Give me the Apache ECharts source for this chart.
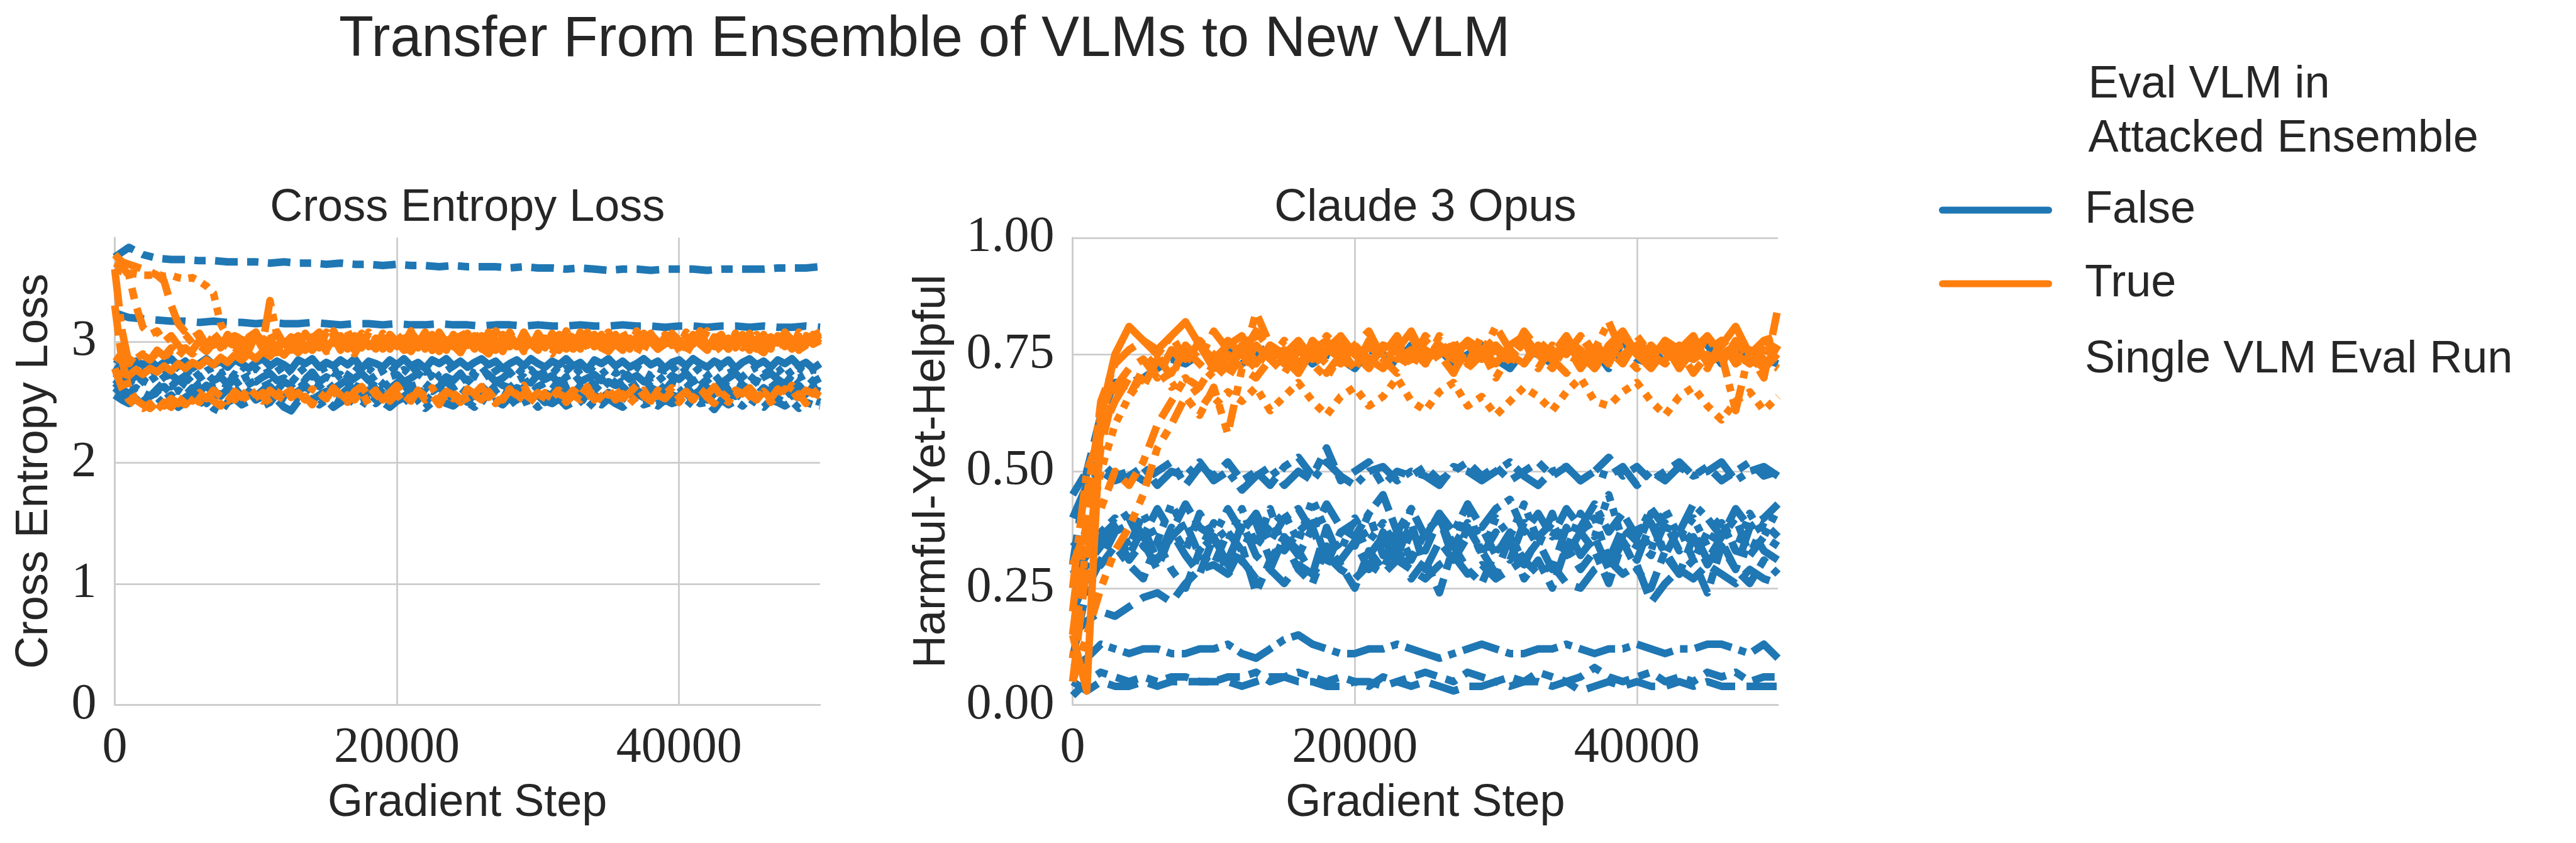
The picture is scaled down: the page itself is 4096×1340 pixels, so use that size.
<!DOCTYPE html>
<html><head><meta charset="utf-8">
<script src="https://cdn.jsdelivr.net/npm/echarts@6/dist/echarts.min.js"></script>
<style>html,body{margin:0;padding:0;background:#fff}#c{width:4096px;height:1340px}</style>
</head><body><div id="c"></div>
<script>
// ---------------- DATA ----------------
// evaluation steps (every 1000 gradient steps)
const steps = [0,1000,2000,3000,4000,5000,6000,7000,8000,9000,
10000,11000,12000,13000,14000,15000,16000,17000,18000,19000,
20000,21000,22000,23000,24000,25000,26000,27000,28000,29000,
30000,31000,32000,33000,34000,35000,36000,37000,38000,39000,
40000,41000,42000,43000,44000,45000,46000,47000,48000,49000,
50000];
// loss logging steps (every 500 gradient steps)
const ceSteps = [0,500,1000,1500,2000,2500,3000,3500,4000,4500,
5000,5500,6000,6500,7000,7500,8000,8500,9000,9500,
10000,10500,11000,11500,12000,12500,13000,13500,14000,14500,
15000,15500,16000,16500,17000,17500,18000,18500,19000,19500,
20000,20500,21000,21500,22000,22500,23000,23500,24000,24500,
25000,25500,26000,26500,27000,27500,28000,28500,29000,29500,
30000,30500,31000,31500,32000,32500,33000,33500,34000,34500,
35000,35500,36000,36500,37000,37500,38000,38500,39000,39500,
40000,40500,41000,41500,42000,42500,43000,43500,44000,44500,
45000,45500,46000,46500,47000,47500,48000,48500,49000,49500,
50000];

const xTicks = [0, 20000, 40000];
const ceTicks = [0, 1, 2, 3];
const hyhTicks = [0, 0.25, 0.5, 0.75, 1.0];

// Cross Entropy Loss, eval VLM NOT in attacked ensemble (False)
const ceF_a = [3.70,3.78,3.72,3.69,3.68,3.68,3.67,3.67,3.66,3.66,
3.66,3.65,3.66,3.65,3.65,3.64,3.65,3.64,3.64,3.63,
3.64,3.63,3.63,3.62,3.63,3.62,3.62,3.62,3.61,3.62,
3.61,3.61,3.60,3.61,3.60,3.59,3.60,3.60,3.59,3.60,
3.60,3.60,3.59,3.60,3.60,3.60,3.60,3.61,3.61,3.61,
3.62];
const ceF_b = [3.24,3.20,3.19,3.18,3.17,3.17,3.16,3.17,3.16,3.16,
3.15,3.16,3.15,3.15,3.16,3.15,3.14,3.15,3.15,3.14,
3.15,3.14,3.14,3.15,3.14,3.14,3.13,3.14,3.14,3.13,
3.14,3.13,3.13,3.14,3.13,3.13,3.14,3.13,3.13,3.12,
3.13,3.13,3.12,3.13,3.13,3.12,3.13,3.12,3.12,3.13,
3.12];
const ceF_c = [2.86,2.83,2.80,2.84,2.81,2.85,2.79,2.83,2.86,2.80,
2.84,2.78,2.82,2.86,2.81,2.84,2.79,2.85,2.82,2.78,
2.83,2.86,2.80,2.84,2.81,2.77,2.85,2.82,2.86,2.79,
2.83,2.80,2.85,2.81,2.86,2.78,2.84,2.82,2.79,2.85,
2.81,2.86,2.80,2.83,2.78,2.85,2.82,2.86,2.80,2.84,
2.79,2.83,2.86,2.81,2.84,2.78,2.82,2.85,2.80,2.86,
2.82,2.79,2.84,2.81,2.86,2.80,2.83,2.77,2.85,2.82,
2.86,2.80,2.84,2.79,2.82,2.86,2.81,2.84,2.78,2.83,
2.85,2.80,2.86,2.82,2.79,2.84,2.81,2.85,2.78,2.83,
2.86,2.81,2.84,2.79,2.85,2.82,2.86,2.80,2.83,2.78,
2.82];
const ceF_d = [2.80,2.76,2.73,2.78,2.74,2.79,2.72,2.77,2.75,2.80,
2.73,2.78,2.71,2.76,2.79,2.74,2.77,2.72,2.80,2.75,
2.78,2.73,2.76,2.80,2.72,2.77,2.74,2.79,2.71,2.76,
2.79,2.74,2.77,2.72,2.80,2.75,2.78,2.73,2.76,2.81,
2.74,2.77,2.72,2.79,2.75,2.78,2.71,2.76,2.80,2.73,
2.77,2.74,2.79,2.72,2.76,2.80,2.75,2.78,2.73,2.77,
2.71,2.76,2.79,2.74,2.78,2.72,2.77,2.80,2.75,2.73,
2.78,2.74,2.77,2.71,2.79,2.75,2.72,2.78,2.76,2.80,
2.73,2.77,2.74,2.79,2.72,2.76,2.80,2.74,2.77,2.71,
2.76,2.79,2.73,2.77,2.75,2.80,2.72,2.78,2.74,2.77,
2.76];
const ceF_e = [2.74,2.70,2.67,2.72,2.69,2.74,2.66,2.71,2.73,2.68,
2.72,2.66,2.70,2.74,2.68,2.71,2.65,2.73,2.69,2.72,
2.67,2.71,2.74,2.68,2.70,2.66,2.73,2.69,2.75,2.67,
2.71,2.68,2.73,2.66,2.70,2.74,2.68,2.72,2.65,2.71,
2.73,2.67,2.70,2.74,2.69,2.72,2.66,2.71,2.68,2.74,
2.66,2.72,2.69,2.73,2.67,2.70,2.75,2.68,2.71,2.66,
2.73,2.69,2.72,2.65,2.71,2.74,2.67,2.70,2.73,2.68,
2.71,2.66,2.74,2.69,2.72,2.67,2.70,2.73,2.66,2.72,
2.69,2.74,2.67,2.71,2.68,2.73,2.66,2.70,2.74,2.68,
2.72,2.67,2.71,2.74,2.69,2.65,2.72,2.70,2.73,2.67,
2.70];
const ceF_f = [2.69,2.64,2.67,2.62,2.68,2.65,2.61,2.67,2.63,2.69,
2.64,2.60,2.66,2.68,2.62,2.67,2.64,2.69,2.61,2.65,
2.68,2.63,2.66,2.60,2.67,2.64,2.69,2.62,2.66,2.63,
2.68,2.61,2.65,2.69,2.64,2.62,2.67,2.63,2.68,2.61,
2.66,2.69,2.63,2.65,2.61,2.68,2.64,2.67,2.62,2.66,
2.69,2.63,2.60,2.66,2.68,2.64,2.62,2.67,2.65,2.69,
2.63,2.66,2.61,2.68,2.64,2.67,2.62,2.69,2.65,2.61,
2.67,2.64,2.68,2.62,2.65,2.69,2.63,2.66,2.60,2.67,
2.65,2.62,2.68,2.64,2.69,2.61,2.66,2.63,2.67,2.64,
2.61,2.68,2.65,2.62,2.67,2.64,2.69,2.63,2.66,2.62,
2.64];
const ceF_g = [2.66,2.61,2.57,2.62,2.58,2.55,2.61,2.63,2.57,2.60,
2.56,2.62,2.59,2.64,2.57,2.55,2.61,2.58,2.63,2.59,
2.55,2.60,2.63,2.57,2.61,2.56,2.59,2.64,2.58,2.55,
2.62,2.59,2.56,2.61,2.63,2.58,2.60,2.55,2.62,2.57,
2.60,2.64,2.58,2.55,2.61,2.59,2.63,2.56,2.60,2.62,
2.57,2.55,2.61,2.58,2.64,2.59,2.56,2.62,2.60,2.57,
2.63,2.58,2.55,2.61,2.59,2.62,2.56,2.60,2.64,2.58,
2.55,2.61,2.63,2.57,2.60,2.56,2.62,2.59,2.55,2.61,
2.58,2.63,2.56,2.60,2.62,2.57,2.64,2.59,2.55,2.61,
2.60,2.56,2.62,2.58,2.63,2.55,2.60,2.64,2.57,2.61,
2.59];
const ceF_h = [2.62,2.57,2.53,2.56,2.51,2.55,2.58,2.52,2.56,2.50,
2.54,2.58,2.52,2.49,2.55,2.57,2.51,2.56,2.53,2.59,
2.52,2.55,2.50,2.57,2.54,2.51,2.58,2.55,2.52,2.56,
2.59,2.53,2.50,2.55,2.57,2.52,2.56,2.49,2.54,2.58,
2.51,2.55,2.59,2.53,2.50,2.56,2.54,2.58,2.52,2.55,
2.50,2.57,2.53,2.56,2.59,2.51,2.55,2.52,2.58,2.54,
2.56,2.50,2.54,2.57,2.52,2.59,2.55,2.51,2.56,2.53,
2.58,2.52,2.55,2.50,2.57,2.54,2.59,2.53,2.51,2.56,
2.54,2.58,2.51,2.55,2.52,2.57,2.50,2.54,2.58,2.53,
2.56,2.51,2.55,2.59,2.53,2.50,2.56,2.54,2.57,2.52,
2.50];
const ceF_i = [2.56,2.52,2.49,2.53,2.47,2.51,2.54,2.48,2.52,2.46,
2.50,2.53,2.49,2.51,2.45,2.42,2.50,2.53,2.48,2.51,
2.54,2.47,2.50,2.52,2.46,2.43,2.51,2.49,2.53,2.48,
2.52,2.46,2.50,2.54,2.49,2.51,2.47,2.53,2.50,2.46,
2.51,2.54,2.48,2.52,2.45,2.50,2.53,2.49,2.47,2.52,
2.50,2.46,2.53,2.49,2.51,2.48,2.54,2.47,2.50,2.52,
2.46,2.51,2.49,2.53,2.47,2.50,2.52,2.45,2.51,2.48,
2.53,2.49,2.46,2.51,2.54,2.48,2.50,2.47,2.52,2.49,
2.51,2.46,2.53,2.49,2.50,2.44,2.52,2.48,2.51,2.47,
2.53,2.49,2.46,2.52,2.50,2.47,2.51,2.45,2.50,2.48,
2.47];

// Cross Entropy Loss, eval VLM in attacked ensemble (True)
const ceT_a = [3.72,3.66,3.64,3.62,3.60,3.58,3.55,3.50,3.30,3.15,
3.08,3.03,3.07,2.97,3.05,2.95,3.06,3.01,2.93,3.04,
3.08,2.96,3.02,2.94,3.07,2.99,3.05,2.92,3.03,3.08,
2.97,3.04,2.93,3.06,3.00,2.95,3.08,2.98,3.03,2.94,
3.06,2.99,3.09,2.95,3.02,2.93,3.05,3.00,2.96,3.07,
2.98,3.04,2.94,3.08,3.01,2.95,3.06,2.97,3.03,2.92,
3.07,2.99,3.04,2.95,3.09,3.00,2.94,3.05,2.98,3.06,
2.95,3.02,3.08,2.97,3.04,2.93,3.06,3.00,2.96,3.07,
3.01,2.94,3.05,2.98,3.09,2.96,3.03,2.95,3.07,3.00,
2.93,3.06,2.99,3.04,2.95,3.08,3.01,2.97,3.05,3.02,
3.06];
const ceT_b = [3.60,3.58,3.57,3.56,3.55,3.55,3.56,3.54,3.55,3.53,
3.52,3.53,3.50,3.46,3.40,3.15,3.04,2.98,3.06,2.96,
3.05,2.99,3.08,2.95,3.03,2.94,3.07,3.00,2.96,3.05,
2.93,3.06,2.98,3.09,2.95,3.04,3.00,2.94,3.07,2.98,
3.03,2.95,3.08,2.99,3.05,2.93,3.06,3.01,2.96,3.09,
2.97,3.04,2.94,3.06,3.00,2.95,3.08,2.98,3.03,2.95,
3.07,2.99,3.05,2.93,3.04,3.00,2.96,3.08,2.98,3.03,
2.94,3.06,3.00,2.95,3.09,2.97,3.04,2.94,3.06,3.01,
2.96,3.08,2.99,3.04,2.93,3.05,3.00,2.97,3.07,2.95,
3.03,2.98,3.06,2.94,3.04,3.00,3.08,2.96,3.02,3.05,
3.08];
const ceT_c = [3.65,3.62,3.55,3.30,3.12,3.06,3.09,3.00,3.05,2.97,
3.06,2.99,3.04,2.94,3.07,3.00,2.95,3.05,2.98,2.93,
3.06,3.01,2.95,3.08,2.98,3.04,2.93,3.07,2.99,3.03,
2.96,3.09,3.00,2.94,3.05,2.98,3.07,2.95,3.02,3.06,
2.97,3.04,2.93,3.06,3.00,2.95,3.08,2.99,3.05,2.94,
3.07,2.98,3.03,2.95,3.09,3.01,2.96,3.04,2.93,3.06,
3.00,2.95,3.07,2.99,3.04,2.94,3.08,3.00,2.96,3.05,
2.98,3.06,2.94,3.03,3.08,2.97,3.01,2.95,3.07,3.00,
2.95,3.04,2.99,3.09,2.96,3.02,3.06,2.94,3.05,2.98,
3.07,3.00,2.95,3.06,2.99,3.03,2.94,3.08,3.00,3.04,
3.07];
const ceT_d = [2.70,2.74,2.72,2.77,2.73,2.78,2.75,2.80,2.76,2.82,
2.78,2.83,2.80,2.85,2.81,2.87,2.83,2.89,2.85,2.90,
2.86,2.92,2.88,2.94,2.89,2.96,2.91,2.97,2.93,3.00,
2.94,3.02,2.95,3.00,2.93,3.04,2.97,3.01,2.94,3.05,
2.96,3.03,2.92,3.01,2.95,3.06,2.98,2.93,3.04,2.96,
3.02,2.94,3.05,2.97,3.01,2.92,3.04,2.96,3.07,2.98,
2.93,3.03,2.96,3.06,2.99,2.94,3.04,2.97,3.02,2.95,
3.05,2.98,2.93,3.03,2.96,3.07,3.00,2.94,3.04,2.97,
3.01,2.95,3.06,2.98,2.93,3.04,2.97,3.02,2.95,3.06,
2.99,2.94,3.03,2.97,3.05,2.96,3.02,2.93,3.04,2.98,
3.01];
const ceT_e = [3.60,3.10,2.82,2.86,2.90,2.85,2.93,2.88,2.95,2.90,
2.97,2.93,3.01,2.95,2.99,2.94,3.04,2.97,3.02,2.96,
3.05,2.99,3.34,3.05,2.99,2.93,3.06,2.98,3.04,2.95,
3.08,3.00,2.94,3.05,2.98,3.07,2.96,3.03,2.95,3.06,
3.00,2.93,3.05,2.99,3.08,2.96,3.02,2.94,3.06,3.00,
2.95,3.07,2.99,3.04,2.93,3.05,3.00,2.96,3.08,2.98,
3.03,2.95,3.06,3.00,2.94,3.07,2.98,3.04,2.96,3.02,
3.08,2.97,3.03,2.94,3.05,2.99,3.07,2.95,3.01,3.06,
2.96,3.04,2.98,3.09,2.95,3.03,3.00,2.94,3.06,2.99,
3.05,2.97,3.02,2.95,3.07,3.00,2.96,3.04,2.98,3.06,
3.03];
const ceT_f = [2.78,2.62,2.52,2.47,2.45,2.49,2.44,2.50,2.46,2.52,
2.48,2.55,2.50,2.57,2.51,2.47,2.56,2.52,2.59,2.50,
2.54,2.58,2.49,2.56,2.52,2.60,2.51,2.55,2.48,2.58,
2.53,2.61,2.50,2.56,2.52,2.59,2.48,2.55,2.60,2.51,
2.57,2.49,2.54,2.60,2.52,2.56,2.48,2.58,2.53,2.61,
2.50,2.56,2.52,2.59,2.49,2.55,2.61,2.51,2.57,2.53,
2.48,2.58,2.54,2.60,2.50,2.56,2.52,2.59,2.49,2.55,
2.61,2.52,2.57,2.49,2.55,2.60,2.51,2.56,2.53,2.59,
2.50,2.57,2.52,2.61,2.54,2.49,2.58,2.53,2.60,2.51,
2.56,2.52,2.59,2.50,2.55,2.61,2.53,2.57,2.49,2.58,
2.55];
const ceT_g = [3.30,2.85,2.62,2.52,2.48,2.45,2.50,2.47,2.53,2.49,
2.56,2.51,2.58,2.53,2.60,2.55,2.51,2.59,2.54,2.62,
2.56,2.51,2.60,2.55,2.63,2.54,2.58,2.52,2.61,2.57,
2.53,2.62,2.56,2.50,2.59,2.63,2.55,2.60,2.52,2.58,
2.64,2.56,2.51,2.60,2.55,2.62,2.53,2.59,2.56,2.50,
2.61,2.57,2.63,2.54,2.59,2.52,2.60,2.56,2.64,2.53,
2.58,2.51,2.62,2.57,2.54,2.60,2.55,2.63,2.52,2.59,
2.56,2.61,2.53,2.58,2.64,2.55,2.51,2.60,2.57,2.62,
2.54,2.59,2.52,2.61,2.56,2.63,2.55,2.50,2.60,2.57,
2.62,2.55,2.59,2.53,2.61,2.56,2.64,2.54,2.60,2.57,
2.62];
const ceT_h = [2.88,2.84,2.86,2.82,2.89,2.85,2.91,2.87,2.93,2.88,
2.95,2.90,2.97,2.92,2.99,2.93,3.01,2.95,2.91,3.00,
3.04,2.94,2.99,2.91,3.03,2.96,3.06,2.93,2.98,3.02,
2.92,3.00,3.05,2.95,2.90,3.01,3.06,2.97,2.93,3.03,
2.96,2.91,3.02,3.07,2.94,2.99,2.92,3.04,2.97,2.91,
3.01,3.05,2.95,2.90,2.99,3.06,2.96,3.02,2.92,2.98,
3.04,2.94,2.90,3.00,3.05,2.96,2.91,3.01,3.06,2.95,
2.92,2.99,3.04,2.96,2.91,3.02,3.07,2.94,2.98,3.03,
2.93,2.90,3.00,3.05,2.95,2.99,2.92,3.03,2.96,3.01,
3.06,2.95,2.91,3.00,3.04,2.94,2.98,3.02,2.93,2.99,
3.03];

// Claude 3 Opus Harmful-Yet-Helpful, eval VLM NOT in ensemble (False)
const hyhF_a = [0.30,0.50,0.62,0.69,0.69,0.70,0.72,0.74,0.73,0.75,
0.74,0.76,0.73,0.75,0.77,0.74,0.76,0.73,0.75,0.74,
0.72,0.76,0.75,0.73,0.77,0.74,0.76,0.73,0.75,0.77,
0.74,0.72,0.76,0.75,0.73,0.77,0.74,0.76,0.72,0.78,
0.74,0.73,0.76,0.75,0.74,0.77,0.73,0.76,0.75,0.74,
0.73];
const hyhF_b = [0.45,0.50,0.52,0.49,0.50,0.48,0.50,0.52,0.47,0.51,
0.49,0.52,0.48,0.50,0.47,0.51,0.53,0.49,0.55,0.48,
0.50,0.52,0.47,0.50,0.49,0.51,0.48,0.50,0.52,0.49,
0.51,0.48,0.50,0.52,0.49,0.51,0.48,0.50,0.53,0.49,
0.51,0.48,0.50,0.52,0.49,0.51,0.48,0.50,0.52,0.49,
0.50];
const hyhF_c = [0.40,0.47,0.50,0.48,0.49,0.51,0.47,0.50,0.49,0.52,
0.48,0.50,0.46,0.49,0.51,0.47,0.50,0.48,0.52,0.49,
0.47,0.50,0.51,0.48,0.50,0.49,0.47,0.51,0.50,0.48,
0.50,0.52,0.49,0.47,0.50,0.51,0.48,0.50,0.49,0.51,
0.47,0.50,0.48,0.51,0.49,0.50,0.52,0.48,0.50,0.51,
0.49];
const hyhF_d = [0.30,0.33,0.35,0.38,0.40,0.34,0.31,0.38,0.33,0.41,
0.36,0.31,0.38,0.34,0.42,0.33,0.37,0.40,0.31,0.37,
0.34,0.41,0.32,0.38,0.31,0.37,0.40,0.33,0.43,0.32,
0.37,0.31,0.39,0.34,0.41,0.32,0.37,0.40,0.31,0.36,
0.34,0.41,0.32,0.38,0.31,0.37,0.40,0.33,0.32,0.39,
0.36];
const hyhF_e = [0.25,0.30,0.34,0.37,0.31,0.35,0.29,0.37,0.32,0.28,
0.36,0.30,0.39,0.32,0.29,0.36,0.33,0.28,0.38,0.31,
0.35,0.29,0.37,0.32,0.39,0.29,0.35,0.31,0.38,0.33,
0.28,0.36,0.31,0.35,0.29,0.38,0.32,0.36,0.29,0.35,
0.31,0.39,0.32,0.28,0.36,0.30,0.35,0.29,0.38,0.33,
0.31];
const hyhF_f = [0.35,0.32,0.37,0.40,0.34,0.41,0.35,0.43,0.37,0.33,
0.39,0.35,0.42,0.34,0.38,0.41,0.35,0.44,0.37,0.33,
0.40,0.35,0.39,0.33,0.42,0.36,0.41,0.34,0.39,0.32,
0.40,0.36,0.43,0.35,0.39,0.33,0.41,0.36,0.45,0.35,
0.39,0.33,0.42,0.36,0.40,0.34,0.39,0.33,0.41,0.36,
0.42];
const hyhF_g = [0.20,0.27,0.30,0.34,0.30,0.27,0.35,0.29,0.25,0.33,
0.36,0.28,0.34,0.24,0.31,0.35,0.29,0.26,0.34,0.30,
0.25,0.33,0.29,0.36,0.27,0.31,0.24,0.34,0.29,0.26,
0.33,0.35,0.27,0.31,0.25,0.34,0.29,0.33,0.26,0.35,
0.29,0.25,0.33,0.28,0.31,0.24,0.34,0.29,0.26,0.31,
0.28];
const hyhF_h = [0.28,0.32,0.36,0.39,0.41,0.36,0.42,0.37,0.43,0.38,
0.36,0.42,0.37,0.41,0.35,0.40,0.42,0.37,0.43,0.38,
0.36,0.41,0.45,0.37,0.42,0.36,0.41,0.37,0.43,0.38,
0.42,0.44,0.37,0.41,0.36,0.42,0.38,0.43,0.37,0.41,
0.36,0.42,0.38,0.37,0.43,0.40,0.36,0.42,0.38,0.40,
0.43];
const hyhF_i = [0.10,0.25,0.31,0.37,0.32,0.38,0.31,0.36,0.39,0.32,
0.30,0.37,0.33,0.39,0.31,0.36,0.32,0.38,0.30,0.37,
0.39,0.32,0.36,0.30,0.37,0.33,0.40,0.31,0.36,0.38,
0.32,0.37,0.30,0.36,0.39,0.32,0.37,0.33,0.31,0.38,
0.35,0.32,0.39,0.33,0.37,0.31,0.36,0.40,0.32,0.36,
0.34];
const hyhF_j = [0.15,0.18,0.20,0.19,0.21,0.23,0.24,0.22,0.26,0.29,
0.30,0.28,0.31,0.27,0.29,0.26,0.30,0.28,0.32,0.29,
0.27,0.30,0.28,0.31,0.29,0.27,0.30,0.32,0.28,0.30,
0.27,0.29,0.31,0.28,0.30,0.26,0.25,0.29,0.31,0.28,
0.30,0.22,0.26,0.29,0.27,0.30,0.28,0.26,0.29,0.27,
0.26];
const hyhF_k = [0.08,0.10,0.13,0.12,0.11,0.12,0.12,0.11,0.11,0.12,
0.12,0.13,0.11,0.10,0.12,0.14,0.15,0.13,0.12,0.11,
0.11,0.12,0.12,0.13,0.12,0.11,0.10,0.11,0.12,0.13,
0.12,0.11,0.11,0.12,0.12,0.13,0.12,0.11,0.12,0.12,
0.13,0.12,0.11,0.12,0.12,0.13,0.13,0.12,0.11,0.13,
0.10];
const hyhF_l = [0.05,0.03,0.05,0.04,0.04,0.05,0.04,0.05,0.05,0.05,
0.05,0.05,0.04,0.05,0.06,0.06,0.05,0.05,0.04,0.04,
0.05,0.05,0.04,0.05,0.04,0.05,0.04,0.03,0.04,0.04,
0.05,0.04,0.05,0.05,0.04,0.05,0.03,0.04,0.05,0.04,
0.05,0.04,0.04,0.05,0.04,0.05,0.04,0.04,0.04,0.04,
0.04];
const hyhF_m = [0.02,0.05,0.07,0.06,0.05,0.06,0.05,0.06,0.06,0.05,
0.05,0.06,0.06,0.07,0.05,0.06,0.07,0.06,0.05,0.06,
0.05,0.04,0.06,0.05,0.06,0.07,0.06,0.05,0.07,0.06,
0.05,0.06,0.05,0.07,0.06,0.05,0.06,0.08,0.06,0.05,
0.06,0.07,0.05,0.06,0.05,0.07,0.06,0.07,0.05,0.06,
0.06];

// Claude 3 Opus Harmful-Yet-Helpful, eval VLM in ensemble (True)
const hyhT_a = [0.15,0.03,0.62,0.75,0.81,0.78,0.76,0.79,0.82,0.77,
0.74,0.77,0.79,0.73,0.77,0.75,0.78,0.74,0.76,0.79,
0.75,0.73,0.77,0.76,0.80,0.74,0.77,0.75,0.78,0.76,
0.73,0.77,0.79,0.75,0.74,0.78,0.76,0.72,0.77,0.80,
0.75,0.74,0.78,0.76,0.79,0.73,0.77,0.81,0.75,0.72,
0.77];
const hyhT_b = [0.05,0.30,0.55,0.68,0.72,0.74,0.70,0.76,0.73,0.78,
0.75,0.72,0.77,0.79,0.74,0.76,0.71,0.78,0.75,0.73,
0.77,0.80,0.74,0.76,0.72,0.78,0.75,0.77,0.73,0.79,
0.76,0.74,0.78,0.72,0.77,0.75,0.79,0.74,0.76,0.73,
0.78,0.75,0.77,0.72,0.76,0.79,0.74,0.77,0.75,0.78,
0.76];
const hyhT_c = [0.10,0.35,0.50,0.60,0.66,0.70,0.72,0.68,0.70,0.66,
0.64,0.67,0.65,0.68,0.63,0.66,0.69,0.65,0.62,0.66,
0.68,0.64,0.66,0.70,0.65,0.63,0.67,0.69,0.64,0.66,
0.62,0.65,0.68,0.66,0.63,0.67,0.70,0.65,0.64,0.67,
0.69,0.65,0.62,0.66,0.68,0.64,0.61,0.65,0.67,0.63,
0.66];
const hyhT_d = [0.20,0.45,0.62,0.70,0.66,0.72,0.75,0.70,0.77,0.74,
0.80,0.76,0.73,0.84,0.77,0.75,0.71,0.76,0.78,0.74,
0.72,0.77,0.75,0.79,0.73,0.76,0.74,0.78,0.72,0.75,
0.77,0.74,0.80,0.76,0.73,0.78,0.75,0.72,0.76,0.74,
0.79,0.75,0.73,0.77,0.74,0.76,0.78,0.73,0.75,0.70,
0.85];
const hyhT_e = [0.25,0.50,0.58,0.65,0.70,0.68,0.74,0.71,0.76,0.73,
0.70,0.75,0.72,0.77,0.74,0.78,0.73,0.76,0.71,0.75,
0.77,0.74,0.72,0.76,0.79,0.73,0.75,0.71,0.77,0.74,
0.76,0.73,0.78,0.75,0.72,0.77,0.74,0.76,0.73,0.79,
0.75,0.72,0.76,0.74,0.78,0.73,0.75,0.63,0.76,0.74,
0.72];
const hyhT_f = [0.05,0.15,0.25,0.33,0.38,0.45,0.55,0.60,0.66,0.62,
0.68,0.58,0.72,0.70,0.74,0.71,0.76,0.73,0.70,0.75,
0.72,0.77,0.74,0.71,0.76,0.73,0.78,0.74,0.72,0.76,
0.70,0.75,0.73,0.77,0.74,0.71,0.76,0.78,0.73,0.75,
0.72,0.77,0.74,0.76,0.71,0.75,0.73,0.78,0.74,0.72,
0.75];
const hyhT_g = [0.15,0.40,0.65,0.73,0.76,0.78,0.75,0.79,0.74,0.77,
0.72,0.78,0.75,0.80,0.76,0.73,0.77,0.74,0.79,0.76,
0.72,0.78,0.75,0.77,0.73,0.79,0.76,0.74,0.78,0.75,
0.81,0.76,0.73,0.77,0.75,0.79,0.74,0.76,0.82,0.75,
0.77,0.73,0.78,0.76,0.74,0.79,0.75,0.77,0.73,0.78,
0.79];
const hyhT_h = [0.30,0.38,0.42,0.50,0.47,0.52,0.60,0.65,0.70,0.68,
0.73,0.70,0.75,0.72,0.77,0.74,0.71,0.76,0.73,0.78,
0.75,0.72,0.77,0.74,0.76,0.73,0.79,0.75,0.72,0.77,
0.74,0.76,0.73,0.78,0.75,0.77,0.72,0.76,0.74,0.79,
0.75,0.73,0.77,0.74,0.76,0.72,0.78,0.75,0.73,0.76,
0.74];

// ---------------- STYLE ----------------
const BLUE = '#1f77b4', ORANGE = '#ff7f0e', TXT = '#262626', GRIDC = '#cccccc';
const SANS = "'Liberation Sans', Arial, sans-serif";
const SERIF = "'Liberation Serif', 'Times New Roman', serif";
const LW = 12;
const DASH = {
  solid: null, d1: [4,1.5], d2: [1,1], d3: [3,1.25,1.5,1.25], d4: [5,1,1,1],
  d5: [3,1.25,1.25,1.25,1.25,1.25], d6: [4,1,4,1,1,1], d7: [3,1.25,3,1.25,1.25,1.25], d8: [4,1,1,1,1,1]
};

// [panel, x values, y values, inEnsemble, dashKey]
const lineSpecs = [
  [0, steps, ceF_a, false, 'd3'], [0, steps, ceF_b, false, 'd1'], [0, ceSteps, ceF_c, false, 'solid'],
  [0, ceSteps, ceF_d, false, 'd2'], [0, ceSteps, ceF_e, false, 'd4'], [0, ceSteps, ceF_f, false, 'd5'],
  [0, ceSteps, ceF_g, false, 'd6'], [0, ceSteps, ceF_h, false, 'd7'], [0, ceSteps, ceF_i, false, 'd8'],
  [0, ceSteps, ceT_a, true, 'd1'], [0, ceSteps, ceT_b, true, 'd2'], [0, ceSteps, ceT_c, true, 'd3'],
  [0, ceSteps, ceT_d, true, 'solid'], [0, ceSteps, ceT_e, true, 'd4'], [0, ceSteps, ceT_f, true, 'd5'],
  [0, ceSteps, ceT_g, true, 'd6'], [0, ceSteps, ceT_h, true, 'd7'],
  [1, steps, hyhF_a, false, 'd1'], [1, steps, hyhF_b, false, 'd3'], [1, steps, hyhF_c, false, 'd4'],
  [1, steps, hyhF_d, false, 'd5'], [1, steps, hyhF_e, false, 'd1'], [1, steps, hyhF_f, false, 'd2'],
  [1, steps, hyhF_g, false, 'd3'], [1, steps, hyhF_h, false, 'd6'], [1, steps, hyhF_i, false, 'd7'],
  [1, steps, hyhF_j, false, 'd1'], [1, steps, hyhF_k, false, 'd4'], [1, steps, hyhF_l, false, 'd1'],
  [1, steps, hyhF_m, false, 'd3'],
  [1, steps, hyhT_a, true, 'solid'], [1, steps, hyhT_b, true, 'd1'], [1, steps, hyhT_c, true, 'd2'],
  [1, steps, hyhT_d, true, 'd3'], [1, steps, hyhT_e, true, 'd4'], [1, steps, hyhT_f, true, 'd5'],
  [1, steps, hyhT_g, true, 'd6'], [1, steps, hyhT_h, true, 'd7']
];

const series = lineSpecs.map((sp, k) => {
  const [panel, xs, vals, inEns, dk] = sp;
  const color = inEns ? ORANGE : BLUE;
  const d = DASH[dk];
  return {
    type: 'line', name: 'run' + k, xAxisIndex: panel, yAxisIndex: panel,
    data: xs.map((s, i) => [s, vals[i]]),
    showSymbol: false, symbol: 'none', silent: true, animation: false,
    z: inEns ? 3 : 2,
    lineStyle: { color: color, width: LW, type: d ? d.map(v => v * LW) : 'solid', cap: 'butt', join: 'round' }
  };
});
// legend-only series
const capsule = 'path://M5.5,0 L174.5,0 A5.5,5.5 0 0 1 174.5,11 L5.5,11 A5.5,5.5 0 0 1 5.5,0 Z';
series.push({ type: 'line', name: 'False', data: [], color: BLUE, itemStyle: { color: BLUE }, lineStyle: { color: BLUE, width: LW } });
series.push({ type: 'line', name: 'True', data: [], color: ORANGE, itemStyle: { color: ORANGE }, lineStyle: { color: ORANGE, width: LW } });
series.push({ type: 'line', name: 'Single VLM Eval Run', data: [], itemStyle: { color: 'rgba(0,0,0,0)' }, lineStyle: { width: 0 } });

const GX = [182.5, 1705.6], GT = 377.8, GW = 1121.5, GH = 742.8;

function xAx(i) {
  return {
    type: 'value', gridIndex: i, min: 0, max: 50000, interval: 20000,
    axisLine: { show: true, onZero: false, lineStyle: { color: GRIDC, width: 2.75 } },
    axisTick: { show: false },
    splitLine: { show: true, showMaxLine: false, lineStyle: { color: GRIDC, width: 2.75 } },
    axisLabel: { fontFamily: SERIF, fontSize: 80, color: TXT, margin: 29, showMaxLabel: false,
      formatter: v => (xTicks.indexOf(v) >= 0 ? String(v) : '') },
    name: 'Gradient Step', nameLocation: 'middle', nameGap: 121,
    nameTextStyle: { fontFamily: SANS, fontSize: 72, color: TXT }
  };
}
const legendBase = {
  orient: 'vertical', left: 3083, padding: 0, selectedMode: false,
  itemWidth: 180, itemHeight: 11, icon: capsule,
  textStyle: { fontFamily: SANS, fontSize: 72, color: TXT, lineHeight: 72, padding: [0, 0, 0, 47] }
};

const option = {
  backgroundColor: '#ffffff',
  animation: false,
  title: [
    { text: 'Transfer From Ensemble of VLMs to New VLM', left: 1470, top: 19.5, textAlign: 'center', padding: 0,
      textStyle: { fontFamily: SANS, fontSize: 90, fontWeight: 'normal', color: TXT } },
    { text: 'Cross Entropy Loss', left: GX[0] + GW / 2, top: 295.5, textAlign: 'center', padding: 0,
      textStyle: { fontFamily: SANS, fontSize: 72, fontWeight: 'normal', color: TXT } },
    { text: 'Claude 3 Opus', left: GX[1] + GW / 2, top: 295.5, textAlign: 'center', padding: 0,
      textStyle: { fontFamily: SANS, fontSize: 72, fontWeight: 'normal', color: TXT } },
    { text: 'Eval VLM in\nAttacked Ensemble', left: 3320.5, top: 92.5, padding: 0,
      textStyle: { fontFamily: SANS, fontSize: 72, fontWeight: 'normal', color: TXT, lineHeight: 86 } }
  ],
  legend: [
    Object.assign({}, legendBase, { top: 334 - 36, data: ['False'] }),
    Object.assign({}, legendBase, { top: 451 - 36, data: ['True'] }),
    Object.assign({}, legendBase, { top: 572 - 36, data: [{ name: 'Single VLM Eval Run', icon: 'none' }] })
  ],
  grid: [
    { left: GX[0], top: GT, width: GW, height: GH, containLabel: false },
    { left: GX[1], top: GT, width: GW, height: GH, containLabel: false }
  ],
  xAxis: [xAx(0), xAx(1)],
  yAxis: [
    { type: 'value', gridIndex: 0, min: 0, max: 3.86, interval: 1,
      axisLine: { show: true, onZero: false, lineStyle: { color: GRIDC, width: 2.75 } },
      axisTick: { show: false },
      splitLine: { show: true, showMaxLine: false, lineStyle: { color: GRIDC, width: 2.75 } },
      axisLabel: { fontFamily: SERIF, fontSize: 80, color: TXT, margin: 29, showMaxLabel: false,
        formatter: v => (ceTicks.indexOf(v) >= 0 ? String(v) : '') },
      name: 'Cross Entropy Loss', nameLocation: 'middle', nameGap: 91, nameRotate: 90,
      nameTextStyle: { fontFamily: SANS, fontSize: 72, color: TXT } },
    { type: 'value', gridIndex: 1, min: 0, max: 1, interval: 0.25,
      axisLine: { show: true, onZero: false, lineStyle: { color: GRIDC, width: 2.75 } },
      axisTick: { show: false },
      splitLine: { show: true, lineStyle: { color: GRIDC, width: 2.75 } },
      axisLabel: { fontFamily: SERIF, fontSize: 80, color: TXT, margin: 29,
        formatter: v => (hyhTicks.indexOf(v) >= 0 ? v.toFixed(2) : '') },
      name: 'Harmful-Yet-Helpful', nameLocation: 'middle', nameGap: 187, nameRotate: 90,
      nameTextStyle: { fontFamily: SANS, fontSize: 72, color: TXT } }
  ],
  series: series
};

const chart = echarts.init(document.getElementById('c'), null, { renderer: 'canvas' });
chart.setOption(option);
</script>
</body></html>
